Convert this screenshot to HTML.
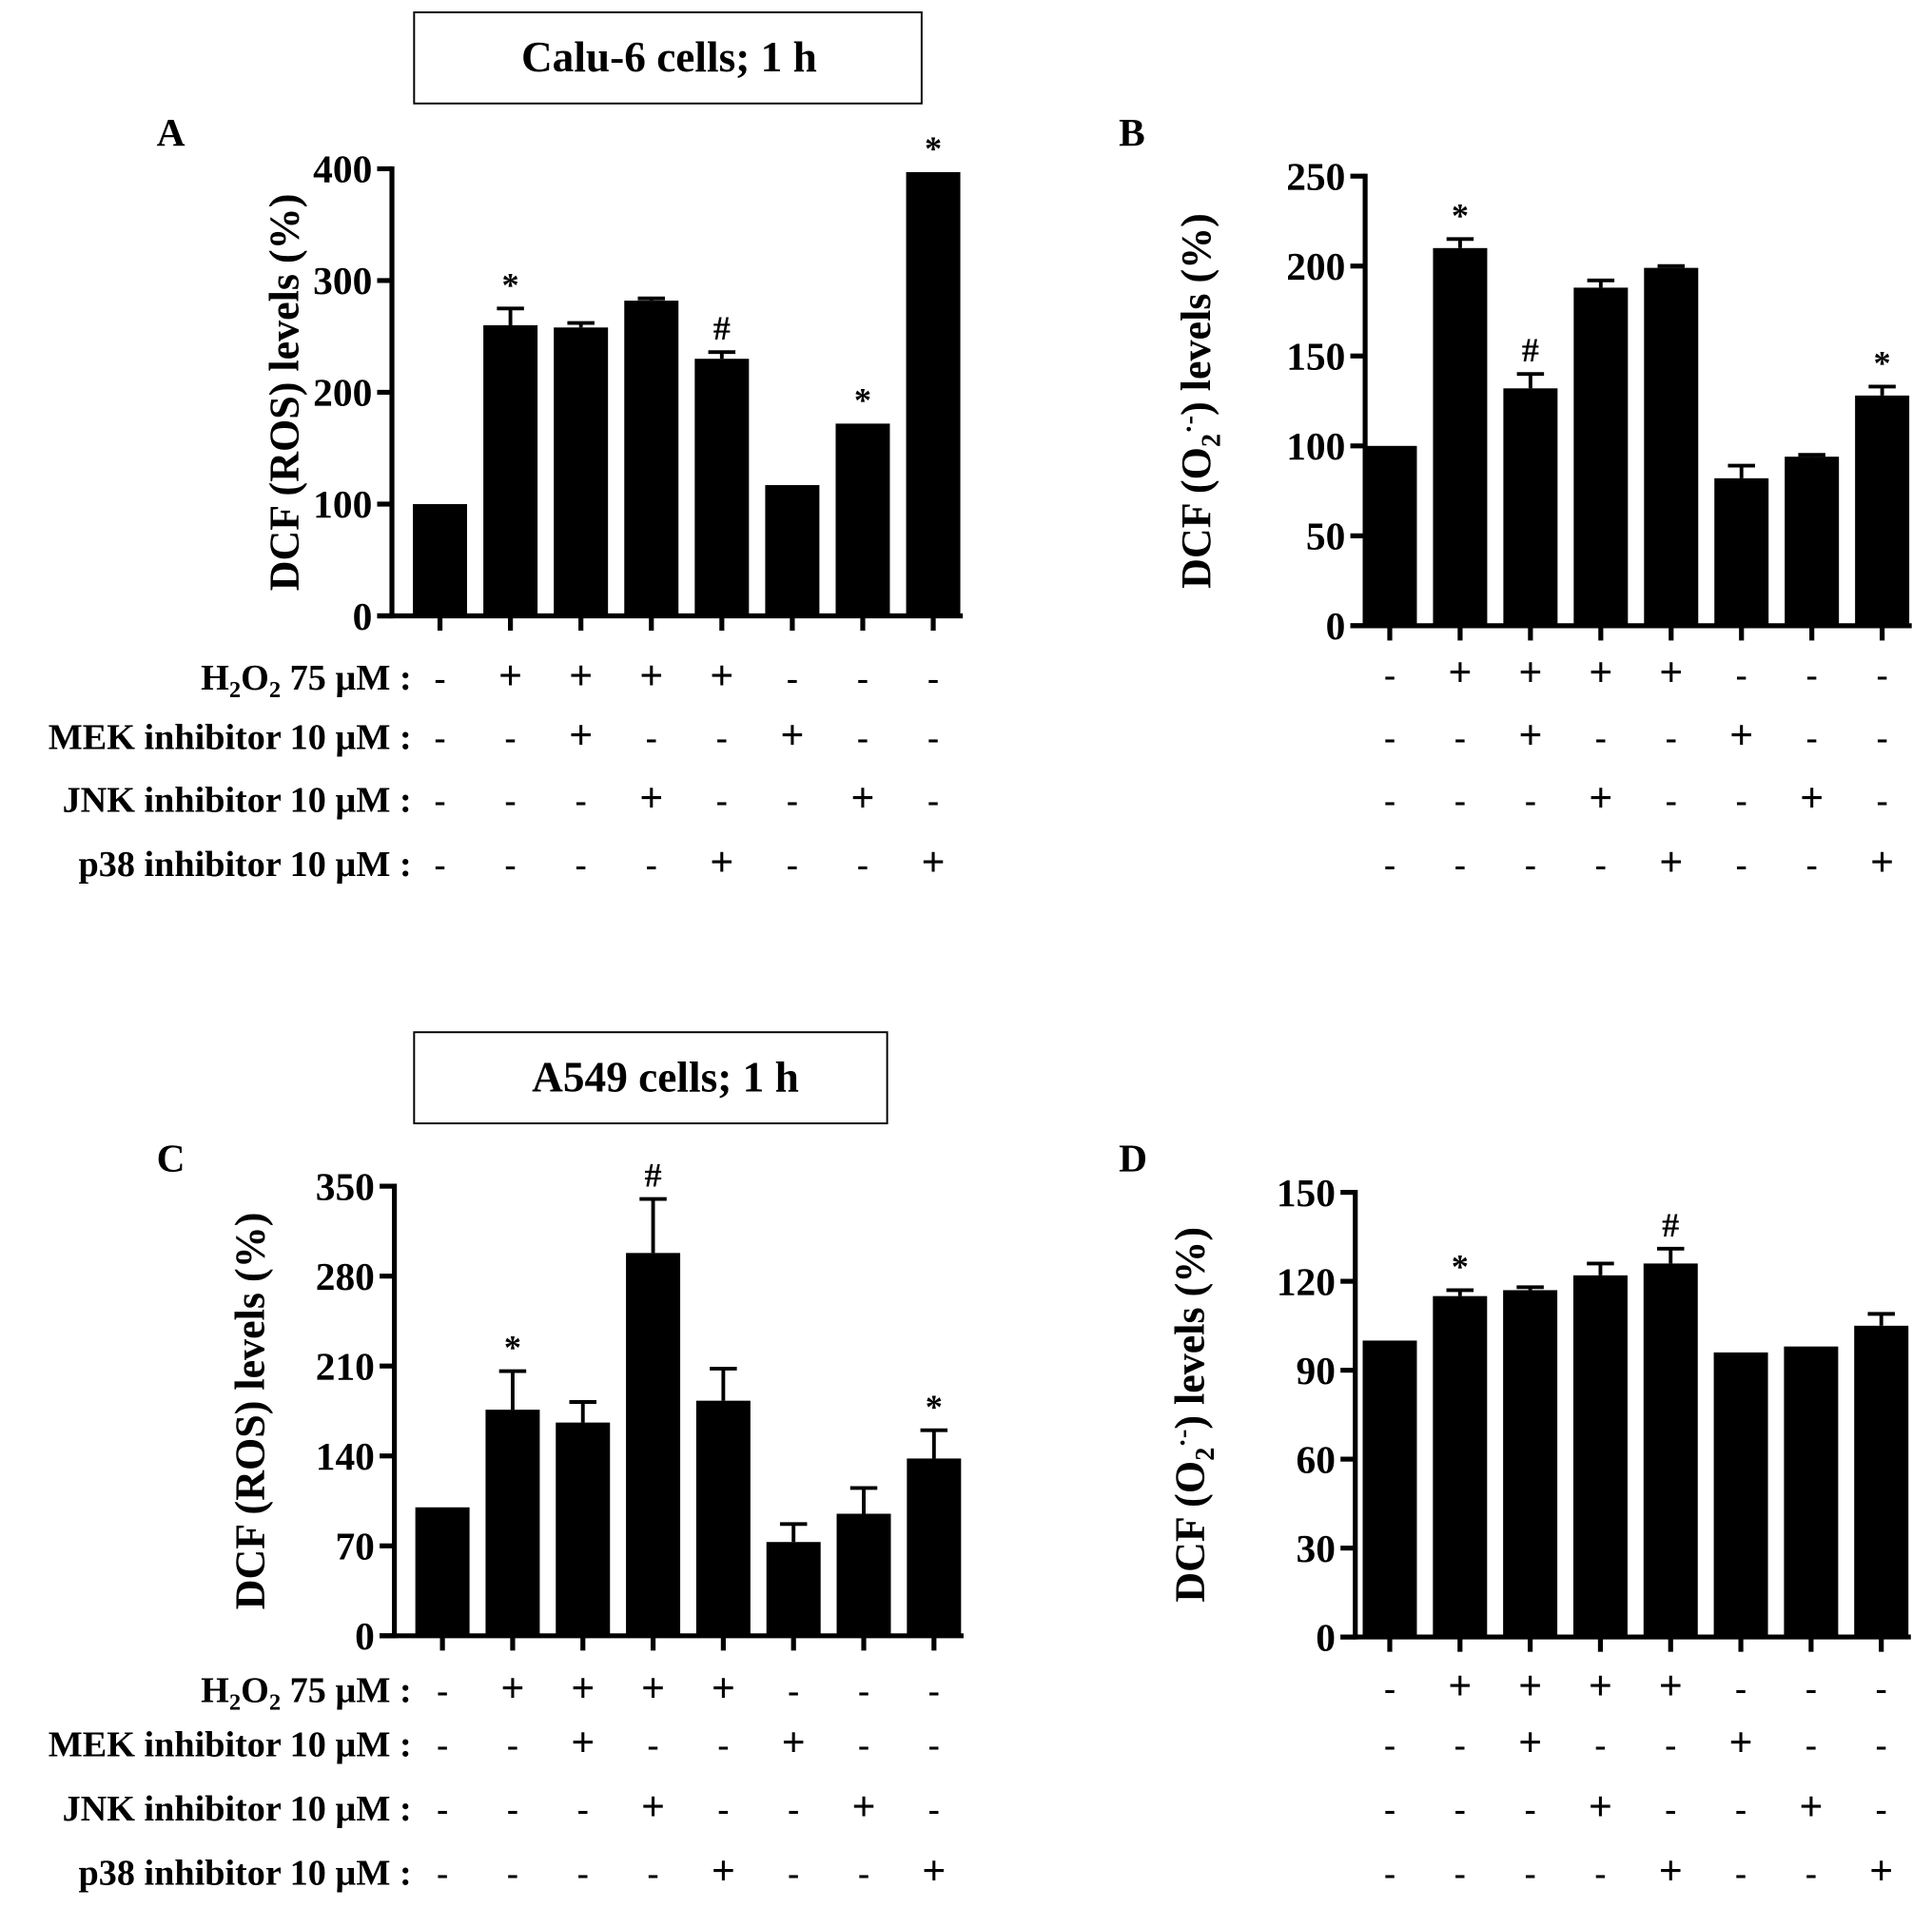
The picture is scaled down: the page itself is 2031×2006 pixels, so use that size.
<!DOCTYPE html>
<html><head><meta charset="utf-8">
<style>
html,body{margin:0;padding:0;background:#fff;}
svg{display:block;}
text{font-family:"Liberation Serif",serif;font-weight:bold;fill:#000;}
</style></head>
<body>
<svg id="fig" width="2031" height="2006" viewBox="0 0 1568 1549" xmlns="http://www.w3.org/2000/svg">
<g>
<rect x="336" y="10" width="412" height="74" fill="none" stroke="#000" stroke-width="1.5"/>
<text x="543" y="58" font-size="35" text-anchor="middle">Calu-6 cells; 1 h</text>
</g>
<g>
<rect x="336" y="838" width="384" height="74" fill="none" stroke="#000" stroke-width="1.5"/>
<text x="540" y="886" font-size="35" text-anchor="middle">A549 cells; 1 h</text>
</g>
</svg>
<script>
const catsA = ["ctrl","H2O2","H2O2+MEK","H2O2+JNK","H2O2+p38","MEK","JNK","p38"];
const h2o2Row = ["-","+","+","+","+","-","-","-"];
const mekRow  = ["-","-","+","-","-","+","-","-"];
const jnkRow  = ["-","-","-","+","-","-","+","-"];
const p38Row  = ["-","-","-","-","+","-","-","+"];
const valsA = [100,260,258,282,230,117,172,397];
const errA  = [0,15,4,2,6,0,0,0];
const markA = ["","*","","","#","","*","*"];
const ticksA = [0,100,200,300,400];
const valsB = [100,210,132,188,199,82,94,128];
const errB  = [0,5,8,4,1,7,1,5];
const markB = ["","*","#","","","","","*"];
const ticksB = [0,50,100,150,200,250];
const valsC = [100,176,166,298,183,73,95,138];
const errC  = [0,30,16,42,25,14,20,22];
const markC = ["","*","","#","","","","*"];
const ticksC = [0,70,140,210,280,350];
const valsD = [100,115,117,122,126,96,98,105];
const errD  = [0,2,1,4,5,0,0,4];
const markD = ["","*","","","#","","",""];
const ticksD = [0,30,60,90,120,150];

const NS="http://www.w3.org/2000/svg";
const svg=document.getElementById('fig');
function mk(tag,attrs,parent){const e=document.createElementNS(NS,tag);for(const k in attrs)e.setAttribute(k,attrs[k]);(parent||svg).appendChild(e);return e;}

function panel(cfg){
  const g=mk('g',{});
  
  
  const ax=cfg.axisX, y0=cfg.y0, yT=cfg.yTop, max=cfg.ticks[cfg.ticks.length-1];
  const yS=v=>y0-(v/max)*(y0-yT);
  const xS=i=>cfg.x0+i*cfg.step;
  const bw=44;
  const lab=mk('text',{x:cfg.labX,y:cfg.labY,'font-size':32},g);lab.textContent=cfg.id;
  
  
  cfg.vals.forEach((v,i)=>{
    const cx=xS(i);
    const r=mk('rect',{x:cx-bw/2,y:yS(v),width:bw,height:y0-yS(v),fill:'#000'},g);
    
    
    const e=cfg.err[i];
    if(e>0){
      const ye=yS(v+e);
      const l=mk('line',{x1:cx,x2:cx,y1:yS(v),y2:ye,stroke:'#000','stroke-width':3},g);
      
      
      mk('line',{x1:cx-11,x2:cx+11,y1:ye,y2:ye,stroke:'#000','stroke-width':3},g);
    }
    if(cfg.marks[i]){
      const t=mk('text',{x:cx,y:yS(v+e)-10,'font-size':28,'text-anchor':'middle','font-weight':'normal',fill:'#333'},g);
      t.textContent=cfg.marks[i];
      
      
    }
    mk('line',{x1:cx,x2:cx,y1:y0,y2:y0+12,stroke:'#000','stroke-width':4},g);
  });
  const ya=mk('line',{x1:ax,x2:ax,y1:yT-2,y2:y0+2,stroke:'#000','stroke-width':4},g);
  
  
  const xa=mk('line',{x1:ax-12,x2:xS(7)+bw/2+2,y1:y0,y2:y0,stroke:'#000','stroke-width':4},g);
  
  
  cfg.ticks.forEach(t=>{
    mk('line',{x1:ax-12,x2:ax,y1:yS(t),y2:yS(t),stroke:'#000','stroke-width':4},g);
    const tx=mk('text',{x:ax-16,y:yS(t)+11,'font-size':32,'text-anchor':'end'},g);
    tx.textContent=t;
    
    
  });
  const tt=mk('text',{x:0,y:0,'font-size':34,'text-anchor':'middle',transform:`translate(${cfg.titleX},${(y0+yT)/2}) rotate(-90)`},g);
  
  
  if(cfg.ros){tt.textContent='DCF (ROS) levels (%)';}
  else{
    tt.appendChild(document.createTextNode('DCF (O'));
    const s=mk('tspan',{'font-size':22,dy:8},tt);s.textContent='2';
    const s2=mk('tspan',{'font-size':22,dy:-18},tt);s2.textContent='·-';
    const s3=mk('tspan',{dy:10},tt);s3.textContent=') levels (%)';
  }
  const rows=[h2o2Row,mekRow,jnkRow,p38Row];
  const names=['h2o2','mek','jnk','p38'];
  rows.forEach((row,ri)=>{
    const ry=cfg.rowsY[ri];
    if(cfg.showLabels){
      const t=mk('text',{x:334,y:ry+10,'font-size':29.5,'text-anchor':'end'},g);
      
      
      if(ri===0){
        t.appendChild(document.createTextNode('H'));
        const a=mk('tspan',{'font-size':19,dy:6},t);a.textContent='2';
        const b=mk('tspan',{dy:-6},t);b.textContent='O';
        const c=mk('tspan',{'font-size':19,dy:6},t);c.textContent='2';
        const d=mk('tspan',{dy:-6},t);d.textContent=' 75 µM :';
      } else t.textContent=['','MEK inhibitor 10 µM :','JNK inhibitor 10 µM :','p38 inhibitor 10 µM :'][ri];
    }
    row.forEach((s,i)=>{
      const t=mk('text',{x:xS(i),y:ry+10,'font-size':s==='+'?34:28,'text-anchor':'middle','font-weight':'normal'},g);
      t.textContent=s;
      
      
    });
  });
}
panel({id:'A',vals:valsA,err:errA,marks:markA,ticks:ticksA,axisX:318,y0:500,yTop:137,x0:357,step:57.2,labX:127,labY:118,titleX:242,ros:true,rowsY:[550,598,649,701],showLabels:true});
panel({id:'B',vals:valsB,err:errB,marks:markB,ticks:ticksB,axisX:1108,y0:508,yTop:143,x0:1128,step:57.1,labX:908,labY:118,titleX:982,ros:false,rowsY:[547,598,649,701],showLabels:false});
panel({id:'C',vals:valsC,err:errC,marks:markC,ticks:ticksC,axisX:320,y0:1328,yTop:963,x0:359,step:57,labX:127,labY:951,titleX:214,ros:true,rowsY:[1372,1416,1468,1520],showLabels:true});
panel({id:'D',vals:valsD,err:errD,marks:markD,ticks:ticksD,axisX:1100,y0:1329,yTop:968,x0:1128,step:57,labX:908,labY:951,titleX:977,ros:false,rowsY:[1370,1416,1468,1520],showLabels:false});
</script>
</body></html>
